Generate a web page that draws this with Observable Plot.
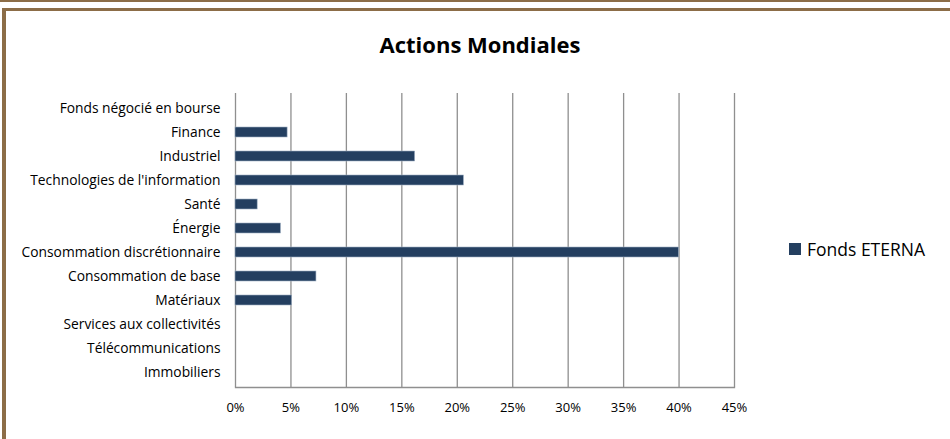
<!DOCTYPE html>
<html>
<head>
<meta charset="utf-8">
<script src="https://cdn.jsdelivr.net/npm/d3@7"></script>
<script src="https://cdn.jsdelivr.net/npm/@observablehq/plot@0.6"></script>
<style>
  html, body { margin: 0; padding: 0; background: #fff; }
  #wrap { position: relative; width: 950px; height: 439px; overflow: hidden; font-family: "Open Sans", Lato, sans-serif; }
  #topline { position: absolute; left: 0; top: 0; width: 950px; height: 1.5px; background: #8c6d47; }
  #frameTop { position: absolute; left: 2px; top: 8px; width: 948px; height: 3px; background: #8c6d47; }
  #frameLeft { position: absolute; left: 2px; top: 8px; width: 4px; height: 431px; background: #8c6d47; }
  #title { position: absolute; left: 0; top: 0; width: 950px; height: 70px; box-sizing: border-box; padding-top: 29px; padding-left: 10px; text-align: center; font-weight: 700; font-size: 22px; color: #000; }
  #chart { position: absolute; left: 0; top: 70px; }
  #legend { position: absolute; left: 789px; top: 237px; display: flex; align-items: center; font-size: 17.5px; color: #000; }
  #legend .sw { width: 12px; height: 12px; background: #243f60; margin-right: 6px; }
</style>
</head>
<body>
<div id="wrap">
  <div id="title">Actions Mondiales</div>
  <div id="chart"></div>
  <div id="legend"><div class="sw"></div><span id="legendLabel"></span></div>
  <div id="topline"></div>
  <div id="frameTop"></div>
  <div id="frameLeft"></div>
</div>
<script>
const categories = [
  "Fonds négocié en bourse",
  "Finance",
  "Industriel",
  "Technologies de l'information",
  "Santé",
  "Énergie",
  "Consommation discrétionnaire",
  "Consommation de base",
  "Matériaux",
  "Services aux collectivités",
  "Télécommunications",
  "Immobiliers"
];
const values = [0, 4.7, 16.2, 20.6, 2.0, 4.1, 40.0, 7.3, 5.1, 0, 0, 0];
const seriesName = "Fonds ETERNA";
const xTicks = [0, 5, 10, 15, 20, 25, 30, 35, 40, 45];

const data = categories.map((c, i) => ({category: c, value: values[i]}));

document.getElementById("legendLabel").textContent = seriesName;

const chart = Plot.plot({
  width: 950,
  height: 369,
  marginLeft: 235,
  marginRight: 216,
  marginTop: 23,
  marginBottom: 52,
  style: { fontFamily: "'Open Sans', Lato, sans-serif", fontSize: "13px", color: "#000", background: "transparent" },
  x: { domain: [0, 45] },
  y: { domain: categories, paddingInner: 0.58, paddingOuter: 0.29 },
  marks: [
    Plot.ruleX(xTicks, { stroke: "#8f8f8f", strokeWidth: 1.3 }),
    Plot.barX(data, { x: "value", y: "category", fill: "#243f60", stroke: "#9fb0c4", strokeWidth: 0.6 }),
    Plot.frame({ anchor: "bottom", stroke: "#8f8f8f", strokeWidth: 1.3 }),
    Plot.axisX({ ticks: xTicks, tickFormat: d => d + "%", tickSize: 0, tickPadding: 15, label: null, fontSize: 13 }),
    Plot.axisY({ tickSize: 0, tickPadding: 15, label: null, fontSize: 13.8 })
  ]
});
document.getElementById("chart").appendChild(chart);
</script>
</body>
</html>
